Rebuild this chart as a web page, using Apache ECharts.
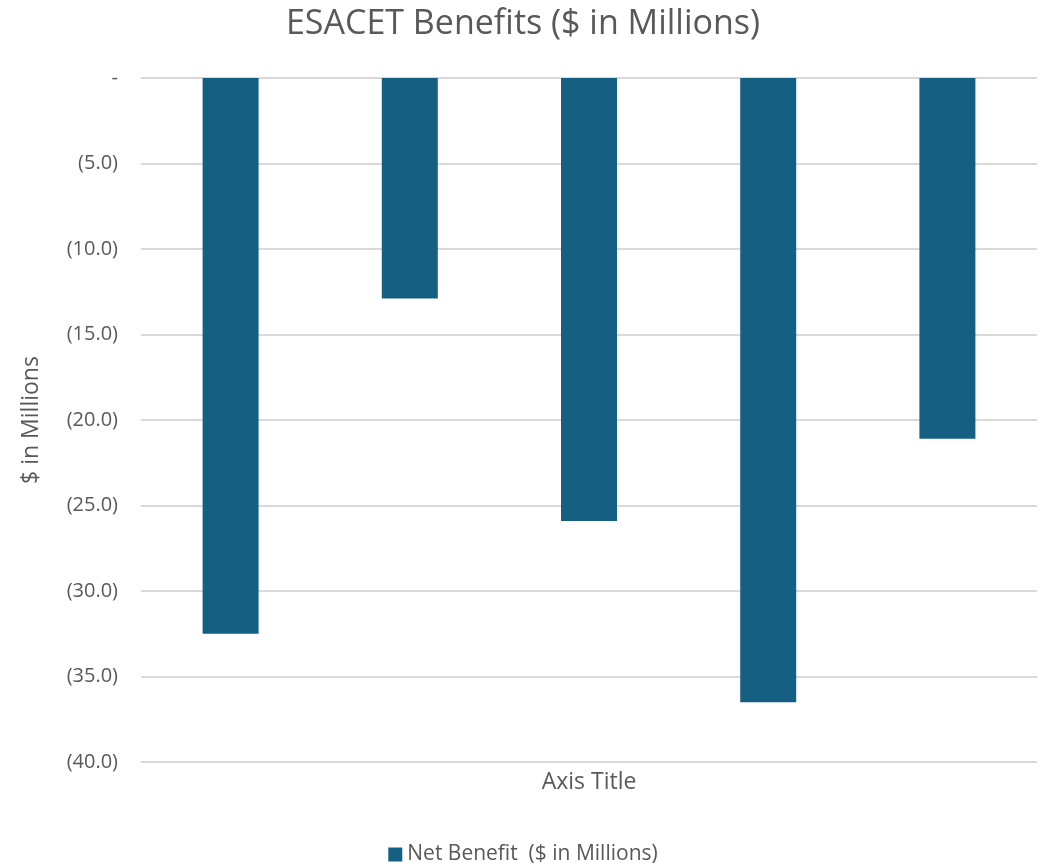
<!DOCTYPE html>
<html>
<head>
<meta charset="utf-8">
<script src="https://cdn.jsdelivr.net/npm/echarts@6/dist/echarts.min.js"></script>
<style>
  html, body { margin: 0; padding: 0; background: #ffffff; }
  #chart { width: 1046px; height: 866px; }
</style>
</head>
<body>
<div id="chart"></div>
<script>
// Net benefit per project, $ in millions (negative = cost)
const categories = ['1', '2', '3', '4', '5'];
const netBenefit = [-32.5, -12.9, -25.9, -36.5, -21.1];
const seriesName = 'Net Benefit  ($ in Millions)';
const yMin = -40, yMax = 0, yStep = 5;

const FONT = '"Open Sans", "Liberation Sans", sans-serif';
const TEXT = '#595959';

// Accounting-style tick labels: 0 -> "-", negatives in parentheses
function fmt(v) {
  if (v === 0) return '-';
  const s = Math.abs(v).toFixed(1);
  return v < 0 ? '(' + s + ')' : s;
}

const chart = echarts.init(document.getElementById('chart'));
chart.setOption({
  backgroundColor: '#ffffff',
  animation: false,
  title: {
    text: 'ESACET Benefits ($ in Millions)',
    left: 'center',
    top: 2,
    textStyle: { fontFamily: FONT, fontSize: 34, fontWeight: 'normal', color: TEXT }
  },
  legend: {
    top: 839,
    left: 'center',
    itemWidth: 14,
    itemHeight: 14,
    icon: 'rect',
    textStyle: { fontFamily: FONT, fontSize: 21, color: TEXT },
    data: [seriesName]
  },
  grid: { left: 141, right: 9, top: 78, bottom: 104, containLabel: false },
  xAxis: {
    type: 'category',
    data: categories,
    position: 'bottom',
    name: 'Axis Title',
    nameLocation: 'middle',
    nameGap: 9,
    nameTextStyle: { fontFamily: FONT, fontSize: 23, color: TEXT },
    axisLine: { show: false },
    axisTick: { show: false },
    axisLabel: { show: false },
    splitLine: { show: false }
  },
  yAxis: {
    type: 'value',
    min: yMin,
    max: yMax,
    interval: yStep,
    name: '$ in Millions',
    nameLocation: 'middle',
    nameGap: 98,
    nameRotate: 90,
    nameTextStyle: { fontFamily: FONT, fontSize: 23, color: TEXT },
    axisLine: { show: false },
    axisTick: { show: false },
    axisLabel: {
      formatter: fmt,
      margin: 23,
      fontFamily: FONT,
      fontSize: 20,
      color: TEXT
    },
    splitLine: { lineStyle: { color: '#d9d9d9', width: 2 } }
  },
  series: [{
    name: seriesName,
    type: 'bar',
    data: netBenefit,
    barWidth: 56,
    itemStyle: { color: '#156082' }
  }]
});
</script>
</body>
</html>
